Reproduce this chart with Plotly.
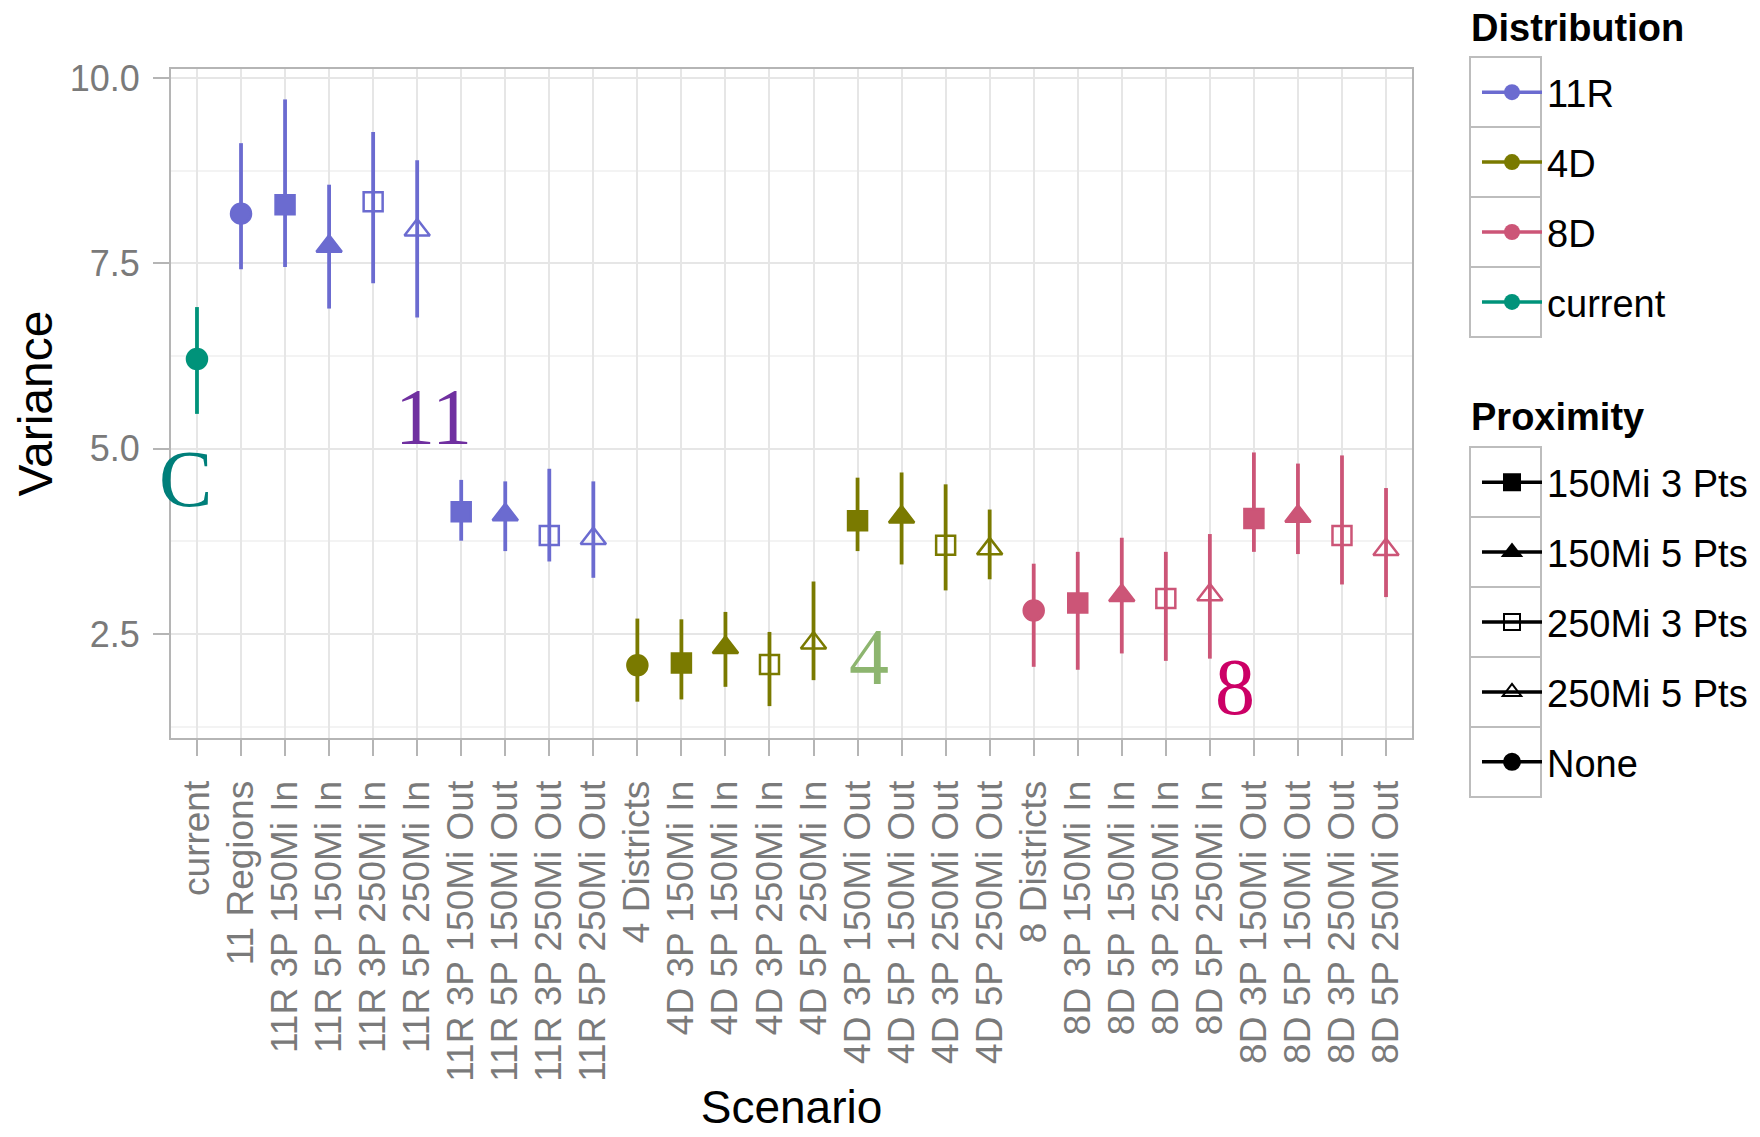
import plotly.graph_objects as go

# ---------------- data ----------------
categories = [
    "current", "11 Regions",
    "11R 3P 150Mi In", "11R 5P 150Mi In", "11R 3P 250Mi In", "11R 5P 250Mi In",
    "11R 3P 150Mi Out", "11R 5P 150Mi Out", "11R 3P 250Mi Out", "11R 5P 250Mi Out",
    "4 Districts",
    "4D 3P 150Mi In", "4D 5P 150Mi In", "4D 3P 250Mi In", "4D 5P 250Mi In",
    "4D 3P 150Mi Out", "4D 5P 150Mi Out", "4D 3P 250Mi Out", "4D 5P 250Mi Out",
    "8 Districts",
    "8D 3P 150Mi In", "8D 5P 150Mi In", "8D 3P 250Mi In", "8D 5P 250Mi In",
    "8D 3P 150Mi Out", "8D 5P 150Mi Out", "8D 3P 250Mi Out", "8D 5P 250Mi Out",
]
distribution = (["current"] + ["11R"] * 9 + ["4D"] * 9 + ["8D"] * 9)
proximity = (["None", "None"]
             + ["150Mi 3 Pts", "150Mi 5 Pts", "250Mi 3 Pts", "250Mi 5 Pts"] * 2
             + ["None"]
             + ["150Mi 3 Pts", "150Mi 5 Pts", "250Mi 3 Pts", "250Mi 5 Pts"] * 2
             + ["None"]
             + ["150Mi 3 Pts", "150Mi 5 Pts", "250Mi 3 Pts", "250Mi 5 Pts"] * 2)

variance = [6.21, 8.17, 8.29, 7.73, 8.33, 7.95, 4.15, 4.11, 3.83, 3.79,
            2.08, 2.11, 2.32, 2.09, 2.38, 4.03, 4.08, 3.70, 3.65,
            2.82, 2.92, 3.02, 2.98, 3.03, 4.06, 4.09, 3.83, 3.64]
upper = [6.91, 9.12, 9.71, 8.56, 9.27, 8.89, 4.58, 4.56, 4.73, 4.56,
         2.71, 2.70, 2.80, 2.53, 3.21, 4.61, 4.68, 4.52, 4.18,
         3.45, 3.61, 3.80, 3.61, 3.85, 4.95, 4.80, 4.91, 4.47]
lower = [5.47, 7.42, 7.45, 6.89, 7.23, 6.77, 3.76, 3.62, 3.48, 3.26,
         1.59, 1.62, 1.79, 1.53, 1.88, 3.62, 3.44, 3.09, 3.24,
         2.06, 2.02, 2.24, 2.14, 2.17, 3.61, 3.58, 3.17, 3.00]

dist_levels = ["11R", "4D", "8D", "current"]
prox_levels = ["150Mi 3 Pts", "150Mi 5 Pts", "250Mi 3 Pts", "250Mi 5 Pts", "None"]

y_ticks = [2.5, 5.0, 7.5, 10.0]
y_tick_labels = ["2.5", "5.0", "7.5", "10.0"]
y_minor = [1.25, 3.75, 6.25, 8.75]

# annotation labels (text, category index, value)
ann_text = ["C", "11", "4", "8"]
ann_x = [-0.25, 5.36, 15.26, 23.57]
ann_y = [4.59, 5.43, 2.19, 1.79]

# ---------------- styles ----------------
dist_colors = {"11R": "#6B6BD0", "4D": "#7A7A00", "8D": "#CC5577", "current": "#00937A"}
prox_symbols = {"150Mi 3 Pts": "square", "150Mi 5 Pts": "triangle-up",
                "250Mi 3 Pts": "square-open", "250Mi 5 Pts": "triangle-up-open",
                "None": "circle"}
prox_sizes = {"150Mi 3 Pts": 19, "150Mi 5 Pts": 22, "250Mi 3 Pts": 19,
              "250Mi 5 Pts": 22, "None": 20}
ann_colors = ["#007F7A", "#7030A0", "#8DB56F", "#CC0066"]

FONT = "Liberation Sans, Arial, Helvetica, sans-serif"
SERIF = "Liberation Serif, Times New Roman, serif"

fig = go.Figure()

# data traces, one per distribution group
for d in dist_levels:
    idx = [i for i, v in enumerate(distribution) if v == d]
    xs = [categories[i] for i in idx]
    ys = [variance[i] for i in idx]
    eplus = [upper[i] - variance[i] for i in idx]
    eminus = [variance[i] - lower[i] for i in idx]
    syms = [prox_symbols[proximity[i]] for i in idx]
    sizes = [prox_sizes[proximity[i]] for i in idx]
    fig.add_trace(go.Scatter(
        x=xs, y=ys, mode="markers", showlegend=False, name=d,
        marker=dict(color=dist_colors[d], symbol=syms, size=sizes, opacity=1,
                    line=dict(color=dist_colors[d], width=2.5)),
        error_y=dict(type="data", symmetric=False, array=eplus, arrayminus=eminus,
                     color=dist_colors[d], thickness=3.8, width=0),
    ))

# legend entries: Distribution
for k, d in enumerate(dist_levels):
    fig.add_trace(go.Scatter(
        x=[None], y=[None], mode="lines+markers", name=d, legend="legend",
        legendgroup="d" + str(k),
        marker=dict(color=dist_colors[d], symbol="circle", size=20, opacity=1),
        line=dict(color=dist_colors[d], width=3.5),
    ))
# legend entries: Proximity
for k, p in enumerate(prox_levels):
    fig.add_trace(go.Scatter(
        x=[None], y=[None], mode="lines+markers", name=p, legend="legend2",
        legendgroup="p" + str(k),
        marker=dict(color="black", symbol=prox_symbols[p], size=prox_sizes[p],
                    opacity=1, line=dict(color="black", width=2)),
        line=dict(color="black", width=3.5),
    ))

# page geometry (pixels as seen in the page; body has an 8px margin)
OFF = 8
PL, PR, PT, PB = 171, 1412, 69, 738
W, H = 1760, 1137
L, R, T, B = PL - OFF, PR - OFF, PT - OFF, PB - OFF


def px_x(px):
    return (px - PL) / (PR - PL)


def px_y(py):
    return (PB - py) / (PB - PT)


shapes = []
# legend key boxes
for top, n in [(57, 4), (447, 5)]:
    for k in range(n):
        shapes.append(dict(type="rect", xref="paper", yref="paper",
                           x0=px_x(1470), x1=px_x(1541),
                           y0=px_y(top + 70 * k), y1=px_y(top + 70 * (k + 1)),
                           line=dict(color="#BDBDBD", width=2),
                           fillcolor="rgba(0,0,0,0)", layer="below"))

annotations = []
for t, x, y, c in zip(ann_text, ann_x, ann_y, ann_colors):
    annotations.append(dict(text=t, x=x, y=y, xref="x", yref="y", showarrow=False,
                            font=dict(family=SERIF, size=80, color=c)))
for t, py in [("<b>Distribution</b>", 28), ("<b>Proximity</b>", 417)]:
    annotations.append(dict(text=t, x=px_x(1469), y=px_y(py), xref="paper", yref="paper",
                            xanchor="left", yanchor="middle", showarrow=False,
                            font=dict(family=FONT, size=38, color="black")))

legend_common = dict(xanchor="left", yanchor="top", font=dict(size=38),
                     itemwidth=60, tracegroupgap=17.5, traceorder="grouped",
                     bgcolor="rgba(0,0,0,0)")

fig.update_layout(
    width=W, height=H,
    margin=dict(l=L, r=W - R, t=T, b=H - B, autoexpand=False),
    plot_bgcolor="white", paper_bgcolor="white",
    font=dict(family=FONT, color="black"),
    shapes=shapes, annotations=annotations,
    legend=dict(x=px_x(1477), y=px_y(61), **legend_common),
    legend2=dict(x=px_x(1477), y=px_y(451), **legend_common),
    xaxis=dict(
        type="category", categoryorder="array", categoryarray=categories,
        tickmode="array", tickvals=categories, ticktext=categories,
        range=[-0.59, len(categories) - 0.41],
        tickangle=-90, tickfont=dict(size=37, color="#7A7A7A"),
        showgrid=True, gridcolor="#E6E6E6", gridwidth=2,
        ticks="outside", ticklen=16, tickwidth=2, tickcolor="#B5B5B5",
        showline=True, linecolor="#B5B5B5", linewidth=2, mirror=True,
        zeroline=False, ticklabelstandoff=10,
        title=dict(text="Scenario", font=dict(size=46, color="black"), standoff=10),
    ),
    yaxis=dict(
        range=[1.10, 10.12], tickvals=y_ticks, ticktext=y_tick_labels,
        tickfont=dict(size=36, color="#7A7A7A"),
        showgrid=True, gridcolor="#E6E6E6", gridwidth=2,
        minor=dict(tickvals=y_minor, showgrid=True,
                   gridcolor="#F3F3F3", gridwidth=1.5, ticks=""),
        ticks="outside", ticklen=16, tickwidth=2, tickcolor="#B5B5B5",
        showline=True, linecolor="#B5B5B5", linewidth=2, mirror=True,
        zeroline=False, ticklabelstandoff=6,
        title=dict(text="Variance", font=dict(size=48, color="black"), standoff=2),
    ),
)

fig.write_html("out.html")
